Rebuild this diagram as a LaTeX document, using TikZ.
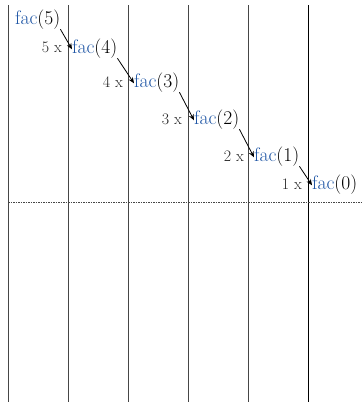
\documentclass[tikz,border=0pt]{standalone}
\usetikzlibrary{arrows.meta}
\definecolor{facblue}{RGB}{30,85,165}
\definecolor{linegray}{RGB}{70,70,70}
\begin{document}
\begin{tikzpicture}[x=1pt,y=-1pt,
  colline/.style={draw=linegray,line width=0.85pt},
  lastline/.style={draw=black,line width=0.85pt},
  sepline/.style={draw=linegray,line width=0.8pt,dash pattern=on 1.5pt off 1pt},
  call/.style={inner sep=0pt,anchor=mid west,font=\fontsize{19.5}{22}\selectfont},
  mul/.style={inner sep=0pt,anchor=mid east,font=\fontsize{16}{18}\selectfont,text=black!85},
  callarrow/.style={-{Stealth[length=6pt,width=5pt]},line width=0.8pt}]
\useasboundingbox (0,0) rectangle (362,402);
\fill[white] (0,0) rectangle (362,402);
% columns
\foreach \x in {8,68,128,188,248}{
  \draw[colline] (\x,5) -- (\x,402);
}
\draw[lastline] (308,5) -- (308,402);
\coordinate (d0) at (8,202);
\coordinate (d1) at (362,202);
\draw[sepline] (d0) -- (d1);
% calls
\node[call] (f5) at (15,22) {\textcolor{facblue}{fac}(5)};
\node[call] (f4) at (72,51) {\textcolor{facblue}{fac}(4)};
\node[call] (f3) at (134,85) {\textcolor{facblue}{fac}(3)};
\node[call] (f2) at (194,122) {\textcolor{facblue}{fac}(2)};
\node[call] (f1) at (254,159) {\textcolor{facblue}{fac}(1)};
\node[call] (f0) at (312,187) {\textcolor{facblue}{fac}(0)};
% multipliers
\node[mul] (m5) at (62,50) {5 x};
\node[mul] (m4) at (123,85) {4 x};
\node[mul] (m3) at (182,122) {3 x};
\node[mul] (m2) at (244,159) {2 x};
\node[mul] (m1) at (302,187) {1 x};
% arrows
\draw[callarrow] (f5.south east) -- ([yshift=-1pt]f4.west);
\draw[callarrow] (f4.south east) -- ([yshift=-1pt]f3.west);
\draw[callarrow] (f3.south east) -- ([yshift=-1pt]f2.west);
\draw[callarrow] (f2.south east) -- ([yshift=-1pt]f1.west);
\draw[callarrow] (f1.south east) -- ([yshift=-1pt]f0.west);
\end{tikzpicture}
\end{document}
